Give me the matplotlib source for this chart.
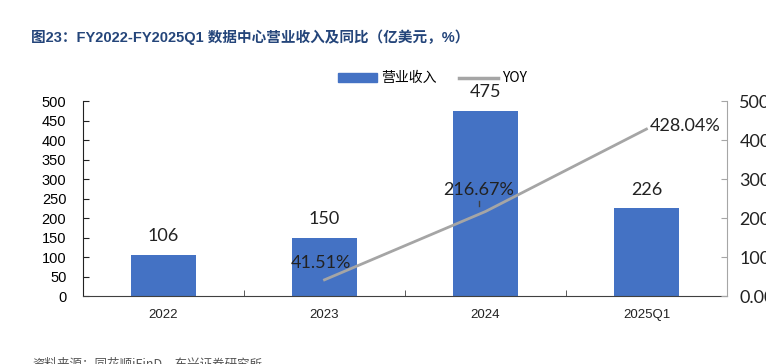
import numpy as np
import matplotlib.pyplot as plt
from matplotlib.ticker import FixedLocator, FuncFormatter
from matplotlib.patches import Patch
from matplotlib.lines import Line2D

plt.rcParams['font.family'] = ['Liberation Sans', 'Noto Sans CJK SC', 'DejaVu Sans']

# data
years = ["2022", "2023", "2024", "2025Q1"]
revenue = [106, 150, 475, 226]          # 亿美元
yoy_years = ["2023", "2024", "2025Q1"]
yoy = [41.51, 216.67, 428.04]           # %

bar_color = "#4472C4"
line_color = "#A5A5A5"
label_font = ['Lato', 'Noto Sans CJK SC']

fig = plt.figure(figsize=(7.66, 3.64), dpi=100)
ax = fig.add_axes([0.1084, 0.1868, 0.8406, 0.5357])
ax2 = ax.twinx()

x = np.arange(len(years))
ax.bar(x, revenue, width=0.4, color=bar_color, zorder=2)
ax.set_xlim(-0.5, len(years) - 0.5)
ax.set_ylim(0, 500)
ax.set_yticks(np.arange(0, 501, 50))
ax.set_xticks(x)
ax.set_xticklabels(years, fontsize=9.5, color="#222222")
ax.xaxis.set_minor_locator(FixedLocator(np.arange(0.5, len(years) - 1, 1)))
ax.tick_params(axis='x', which='major', length=0, pad=9)
ax.tick_params(axis='x', which='minor', direction='in', length=4, color="#404040")
ax.tick_params(axis='y', direction='in', length=4, labelsize=10.5, pad=12, color="#222222")
ax.spines['top'].set_visible(False)
ax.spines['right'].set_visible(False)
ax.spines['left'].set_color("#222222")
ax.spines['bottom'].set_color("#404040")

for xi, v in zip(x, revenue):
    ax.text(xi, v + 47, str(v), ha='center', va='center', fontsize=13,
            family=label_font, color="#222222")

# YOY line on right axis
xi_yoy = [years.index(y) for y in yoy_years]
ax2.plot(xi_yoy, yoy, color=line_color, lw=2.0, zorder=3)
ax2.set_ylim(0, 500)
ax2.set_yticks(np.arange(0, 501, 100))
ax2.yaxis.set_major_formatter(FuncFormatter(lambda v, p: f"{v:.2f}%"))
ax2.tick_params(axis='y', direction='in', length=4, labelsize=13, pad=9, color="#A6A6A6")
for lbl in ax2.get_yticklabels():
    lbl.set_family(label_font)
    lbl.set_color("#222222")
for s in ['top', 'left', 'bottom']:
    ax2.spines[s].set_visible(False)
ax2.spines['right'].set_color("#A6A6A6")

ax2.text(xi_yoy[0] - 0.02, yoy[0] + 44, f"{yoy[0]:.2f}%", ha='center', va='center',
         fontsize=13, family=label_font, color="#222222")
ax2.text(xi_yoy[1] - 0.04, yoy[1] + 55, f"{yoy[1]:.2f}%", ha='center', va='center',
         fontsize=13, family=label_font, color="#222222")
ax2.plot([xi_yoy[1] - 0.04, xi_yoy[1] - 0.04], [yoy[1] + 15, yoy[1] + 28], color="#404040", lw=1)
ax2.text(xi_yoy[2] + 0.02, yoy[2] + 8, f"{yoy[2]:.2f}%", ha='left', va='center',
         fontsize=13, family=label_font, color="#222222")

handles = [Patch(color=bar_color), Line2D([0], [0], color=line_color, lw=2.5)]
fig.legend(handles, ["营业收入", "YOY"], loc='center', bbox_to_anchor=(0.565, 0.785),
           ncol=2, frameon=False, handlelength=2.8, handleheight=0.6,
           columnspacing=1.6, handletextpad=0.3,
           prop={'family': ['Noto Sans CJK SC'], 'size': 10})

fig.text(0.04, 0.898, "图23：FY2022-FY2025Q1 数据中心营业收入及同比（亿美元，%）",
         fontsize=10.5, fontweight='bold', color="#24457A",
         family=['Liberation Sans', 'Noto Sans CJK SC'], va='center')
fig.text(0.042, 0.0, "资料来源：同花顺iFinD，东兴证券研究所", fontsize=9, style='italic',
         color="#555555", family=['Noto Sans CJK SC'], va='center')

fig.savefig("out.png", dpi=100)
